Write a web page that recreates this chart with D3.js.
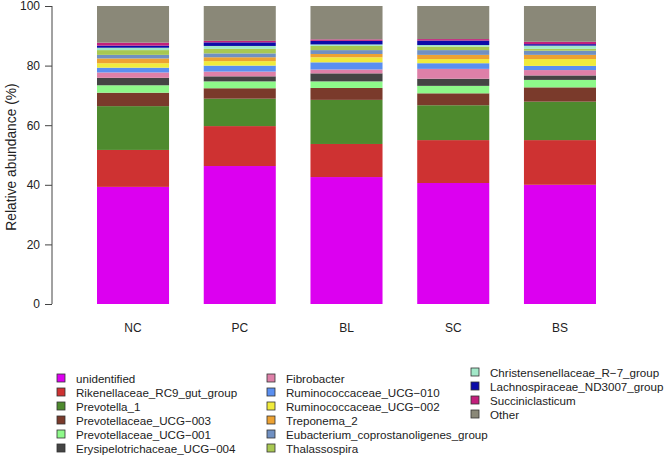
<!DOCTYPE html>
<html><head><meta charset="utf-8">
<script src="https://cdn.jsdelivr.net/npm/d3@7"></script>
<style>body{margin:0;background:#fff}svg{display:block;font-family:"Liberation Sans",Arial,sans-serif}</style>
</head><body><svg id="c" width="666" height="456"></svg>
<script>
const groups = ["NC","PC","BL","SC","BS"];
const taxa = ["unidentified","Rikenellaceae_RC9_gut_group","Prevotella_1","Prevotellaceae_UCG-003","Prevotellaceae_UCG-001","Erysipelotrichaceae_UCG-004","Fibrobacter","Ruminococcaceae_UCG-010","Ruminococcaceae_UCG-002","Treponema_2","Eubacterium_coprostanoligenes_group","Thalassospira","Christensenellaceae_R-7_group","Lachnospiraceae_ND3007_group","Succiniclasticum","Other"];
const colors = ["#DC00F0","#CE3232","#4E8A2E","#7A3A2B","#8EF98A","#444444","#DE80A8","#5A8FF0","#F0EB3C","#EDA232","#7090C2","#A8C852","#A2E8C8","#0C0CA8","#C2207C","#8A8878"];
// values per taxon, in group order NC, PC, BL, SC, BS
const unidentified = [39.3,46.3,42.6,40.6,40.0];
const rikenellaceae = [12.4,13.4,11.1,14.4,15.0];
const prevotella1 = [14.7,9.2,14.8,11.7,12.9];
const prevUCG003 = [4.5,3.5,4.0,4.0,4.8];
const prevUCG001 = [2.5,2.3,2.2,2.5,2.5];
const erysUCG004 = [2.5,1.7,2.7,2.4,1.5];
const fibrobacter = [1.8,1.6,1.3,3.3,1.8];
const rumUCG010 = [1.6,2.0,2.4,1.9,1.4];
const rumUCG002 = [1.5,1.5,1.7,1.4,2.3];
const treponema2 = [1.6,1.3,1.1,1.4,1.4];
const eubacterium = [1.2,1.3,1.3,1.6,1.4];
const thalassospira = [1.6,1.5,1.4,1.2,0.6];
const christensenellaceae = [0.8,1.0,0.5,0.5,1.1];
const lachnospiraceae = [0.7,1.2,1.2,1.5,0.5];
const succiniclasticum = [1.0,0.5,0.5,0.5,0.8];
const other = [12.3,11.7,11.2,11.1,12.0];
const yTicks = [0,20,40,60,80,100];

const series = [unidentified,rikenellaceae,prevotella1,prevUCG003,prevUCG001,erysUCG004,fibrobacter,rumUCG010,rumUCG002,treponema2,eubacterium,thalassospira,christensenellaceae,lachnospiraceae,succiniclasticum,other];
const table = groups.map((g,i)=>{const o={group:g}; taxa.forEach((t,j)=>o[t]=series[j][i]); return o;});
const stack = d3.stack().keys(taxa)(table);

const svg = d3.select("#c");
const y = d3.scaleLinear().domain([0,100]).range([304,6]);
const x = d3.scaleBand().domain(groups).range([97,596]).paddingInner(0.325).paddingOuter(0);
const color = d3.scaleOrdinal().domain(taxa).range(colors);

svg.append("g").selectAll("g").data(stack).join("g")
  .attr("fill",d=>color(d.key))
  .selectAll("rect").data(d=>d).join("rect")
  .attr("x",d=>x(d.data.group)).attr("width",x.bandwidth())
  .attr("y",d=>y(d[1])).attr("height",d=>y(d[0])-y(d[1]));

const ya = svg.append("g").attr("transform","translate(52,0)")
  .call(d3.axisLeft(y).tickValues(yTicks).tickSize(7).tickPadding(5));
ya.select(".domain").attr("stroke","#444").attr("d","M0,6V304");
ya.selectAll(".tick line").attr("stroke","#444");
ya.selectAll("text").attr("font-size",12).attr("fill","#222").attr("font-family","Liberation Sans, Arial, sans-serif");

svg.append("text").attr("transform","translate(16,157) rotate(-90)").attr("text-anchor","middle")
  .attr("font-size",13.8).attr("fill","#222").text("Relative abundance (%)");

svg.append("g").selectAll("text").data(groups).join("text")
  .attr("x",d=>x(d)+x.bandwidth()/2).attr("y",332).attr("text-anchor","middle")
  .attr("font-size",12).attr("fill","#222").text(d=>d);

// legend: 3 columns
const cols = [{x:57,y0:378,items:taxa.slice(0,6)},{x:267,y0:378,items:taxa.slice(6,12)},{x:471,y0:372,items:taxa.slice(12)}];
cols.forEach(c=>{
  const g = svg.append("g");
  c.items.forEach((t,i)=>{
    const cy = c.y0 + i*14;
    g.append("rect").attr("x",c.x).attr("y",cy-4).attr("width",8).attr("height",8)
      .attr("fill",color(t)).attr("stroke","#333").attr("stroke-width",0.8);
    g.append("text").attr("x",c.x+19).attr("y",cy+4.5).attr("font-size",11.6).attr("fill","#222").text(t.replace(/-/g,"\u2212"));
  });
});
</script></body></html>
